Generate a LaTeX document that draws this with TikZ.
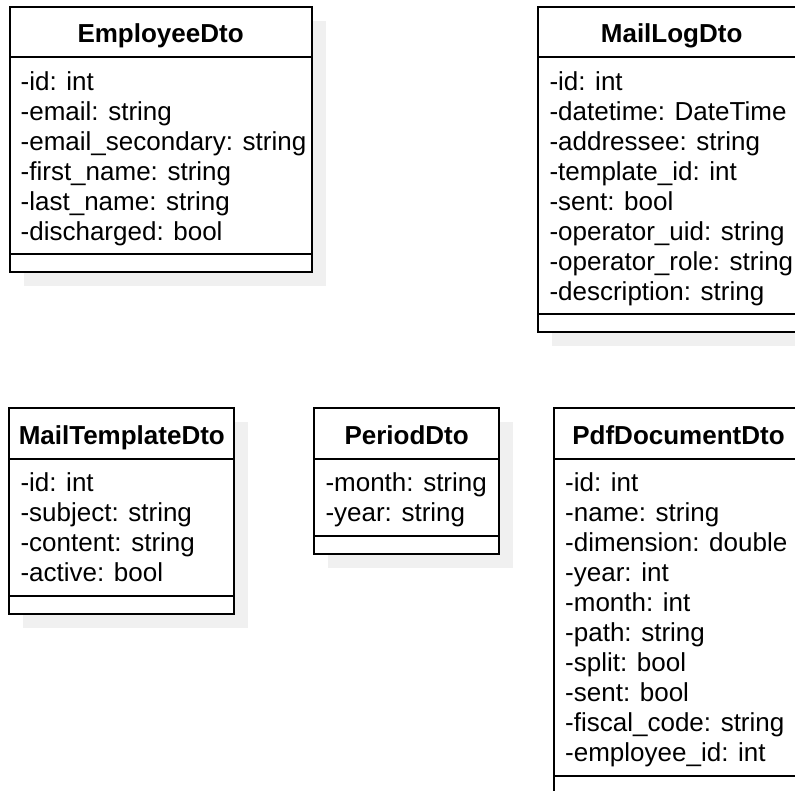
\documentclass[tikz,border=0pt]{standalone}
\usepackage{fontspec}
\setmainfont{Liberation Sans}
\tikzset{
  boxline/.style={draw=black, line width=2pt, fill=white},
  sepline/.style={draw=black, line width=2pt},
  shadowbox/.style={fill=black!6, draw=none},
  classtitle/.style={font=\fontsize{26}{30}\selectfont\bfseries, anchor=base, inner sep=0pt},
  attr/.style={font=\fontsize{26}{30}\selectfont, anchor=base west, inner sep=0pt},
}
% #1 name, #2 left, #3 top, #4 right, #5 title, #6 number of attributes, #7 attributes
\newcommand\classbox[7]{%
  \pgfmathsetmacro\hsep{#3+50.5}%
  \pgfmathsetmacro\asep{\hsep+30*#6+17}%
  \pgfmathsetmacro\bott{\asep+18}%
  \fill[shadowbox] (#2+14,#3+14) rectangle (#4+14,\bott+14);
  \draw[boxline] (#2,#3) rectangle (#4,\bott);
  \draw[sepline] (#2,\hsep) -- (#4,\hsep);
  \draw[sepline] (#2,\asep) -- (#4,\asep);
  \node[classtitle] (#1-title) at ({(#2+#4)/2},#3+36) {#5};
  \foreach \t [count=\i from 0] in {#7} {
    \node[attr] (#1-a\i) at (#2+11,\hsep+24+30*\i+9.3) {\t};
  }
}
\begin{document}
\begin{tikzpicture}[x=1pt,y=-1pt]
\clip (0,0) rectangle (795,791);
\fill[white] (0,0) rectangle (795,791);

\classbox{emp}{9.5}{7}{311.7}{EmployeeDto}{6}{%
  -id: int,-email: string,-email\_secondary: string,-first\_name: string,-last\_name: string,-discharged: bool}

\classbox{maillog}{538.3}{7}{805}{MailLogDto}{8}{%
  -id: int,-datetime: DateTime,-addressee: string,-template\_id: int,-sent: bool,-operator\_uid: string,-operator\_role: string,-description: string}

\classbox{tmpl}{9.3}{408}{234.3}{MailTemplateDto}{4}{%
  -id: int,-subject: string,-content: string,-active: bool}

\classbox{period}{314.3}{408}{499}{PeriodDto}{2}{%
  -month: string,-year: string}

\classbox{pdf}{554}{408}{803}{PdfDocumentDto}{10}{%
  -id: int,-name: string,-dimension: double,-year: int,-month: int,-path: string,-split: bool,-sent: bool,-fiscal\_code: string,-employee\_id: int}
\end{tikzpicture}
\end{document}
